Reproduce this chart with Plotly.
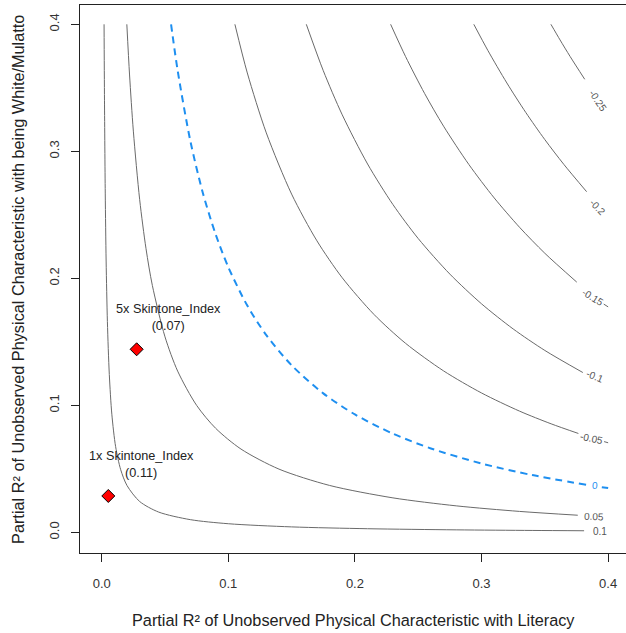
import plotly.graph_objects as go

# ---- data ----
levels = ["0.1", "0.05", "0", "-0.05", "-0.1", "-0.15", "-0.2", "-0.25"]

c_01_x = [0.00187, 0.0022, 0.0028, 0.0035, 0.0045, 0.006, 0.008, 0.011, 0.015, 0.02, 0.03, 0.045, 0.07, 0.1, 0.15, 0.21, 0.28, 0.34, 0.381]
c_01_y = [0.4, 0.3402, 0.2671, 0.2136, 0.1659, 0.1243, 0.0930, 0.0674, 0.0493, 0.0368, 0.02425, 0.01592, 0.00996, 0.00675, 0.00425, 0.00282, 0.00193, 0.00146, 0.00122]

c_005_x = [0.01985, 0.022, 0.025, 0.03, 0.035, 0.04, 0.05, 0.06, 0.075, 0.09, 0.11, 0.14, 0.18, 0.23, 0.28, 0.33, 0.376]
c_005_y = [0.4, 0.3601, 0.3159, 0.2619, 0.2233, 0.1944, 0.1539, 0.1269, 0.0999, 0.0819, 0.06555, 0.04976, 0.0369, 0.02712, 0.02083, 0.01645, 0.01344]

c_0_x = [0.0548, 0.06, 0.07, 0.08, 0.09, 0.1, 0.115, 0.13, 0.15, 0.175, 0.2, 0.23, 0.26, 0.3, 0.34, 0.383]
c_0_y = [0.4, 0.3635, 0.3082, 0.2668, 0.2346, 0.2088, 0.1785, 0.1553, 0.1315, 0.1094, 0.0928, 0.07767, 0.06603, 0.05413, 0.04504, 0.03737]
c_0_tail_x = [0.395, 0.4]
c_0_tail_y = [0.0355, 0.0348]

c_m005_x = [0.1052, 0.115, 0.13, 0.15, 0.17, 0.19, 0.215, 0.24, 0.27, 0.3, 0.33, 0.355, 0.3765]
c_m005_y = [0.4, 0.3617, 0.3145, 0.2663, 0.2295, 0.2004, 0.1716, 0.1488, 0.1271, 0.1097, 0.09542, 0.0854, 0.07783]
c_m005_tail_x = [0.3968, 0.4]
c_m005_tail_y = [0.0714, 0.0705]

c_m01_x = [0.1616, 0.175, 0.19, 0.21, 0.23, 0.25, 0.275, 0.3, 0.325, 0.35, 0.38]
c_m01_y = [0.4, 0.3635, 0.3287, 0.29, 0.2581, 0.2313, 0.2033, 0.1799, 0.1601, 0.1432, 0.1258]

c_m015_x = [0.2282, 0.24, 0.255, 0.27, 0.29, 0.31, 0.33, 0.35, 0.3752]
c_m015_y = [0.4, 0.3746, 0.3456, 0.3198, 0.2896, 0.2633, 0.2402, 0.2197, 0.197]
c_m015_tail_x = [0.3965, 0.4]
c_m015_tail_y = [0.1797, 0.1775]

c_m02_x = [0.2939, 0.305, 0.32, 0.335, 0.35, 0.365, 0.383]
c_m02_y = [0.4, 0.3794, 0.3538, 0.3305, 0.3092, 0.2897, 0.2682]

c_m025_x = [0.3548, 0.362, 0.37, 0.3815]
c_m025_y = [0.4, 0.3877, 0.3746, 0.3567]

label_x = [0.3937, 0.3887, 0.3897, 0.387, 0.3897, 0.388, 0.392, 0.392]
label_y = [0.0010, 0.0123, 0.0365, 0.074, 0.1225, 0.1845, 0.2561, 0.3404]
label_angle = [0, 2, 5, 12, 22, 32, 46, 56]

bench_x = [0.0052, 0.0276]
bench_y = [0.0286, 0.1441]
bench_names = ["1x Skintone_Index", "5x Skintone_Index"]
bench_values = ["(0.11)", "(0.07)"]
bench_label_x = [0.0316, 0.0531]
bench_label_y = [0.0535, 0.1690]

x_ticks = [0.0, 0.1, 0.2, 0.3, 0.4]
x_tick_text = ["0.0", "0.1", "0.2", "0.3", "0.4"]
y_ticks = [0.0, 0.1, 0.2, 0.3, 0.4]
y_tick_text = ["0.0", "0.1", "0.2", "0.3", "0.4"]

x_title = "Partial R² of Unobserved Physical Characteristic with Literacy"
y_title = "Partial R² of Unobserved Physical Characteristic with being White/Mulatto"

# ---- figure ----
FONT = "Liberation Sans, Arial, sans-serif"
GREY = "#6a6a6a"
BLUE = "#1E8FF0"

fig = go.Figure()

grey_curves = [
    (c_01_x, c_01_y), (c_005_x, c_005_y), (c_m005_x, c_m005_y),
    (c_m01_x, c_m01_y), (c_m015_x, c_m015_y), (c_m02_x, c_m02_y),
    (c_m025_x, c_m025_y), (c_m005_tail_x, c_m005_tail_y),
    (c_m015_tail_x, c_m015_tail_y),
]
for cx, cy in grey_curves:
    fig.add_trace(go.Scatter(x=cx, y=cy, mode="lines",
                             line=dict(color=GREY, width=1, shape="spline", smoothing=0.8),
                             hoverinfo="skip", showlegend=False))

for cx, cy in [(c_0_x, c_0_y), (c_0_tail_x, c_0_tail_y)]:
    fig.add_trace(go.Scatter(x=cx, y=cy, mode="lines",
                             line=dict(color=BLUE, width=2, dash="7px,5px", shape="spline", smoothing=0.8),
                             hoverinfo="skip", showlegend=False))

fig.add_trace(go.Scatter(x=bench_x, y=bench_y, mode="markers",
                         marker=dict(symbol="diamond", size=10, color="#FF0000",
                                     line=dict(color="black", width=1)),
                         showlegend=False))

for lx, ly, la, lv in zip(label_x, label_y, label_angle, levels):
    fig.add_annotation(x=lx, y=ly, text=lv, showarrow=False, textangle=la,
                       font=dict(family=FONT, size=10, color=BLUE if lv == "0" else "#555555"),
                       xanchor="center", yanchor="middle")

for bx, by, bn, bv in zip(bench_label_x, bench_label_y, bench_names, bench_values):
    fig.add_annotation(x=bx, y=by, text=bn + "<br>" + bv, showarrow=False,
                       font=dict(family=FONT, size=12.7, color="#222222"),
                       xanchor="center", yanchor="middle", align="center")

fig.add_annotation(xref="paper", yref="paper", x=0.5, y=-0.1223, text=x_title,
                   showarrow=False, xanchor="center", yanchor="middle",
                   font=dict(family=FONT, size=16.3, color="#222222"))
fig.add_annotation(xref="paper", yref="paper", x=-0.1136, y=0.5, text=y_title,
                   showarrow=False, xanchor="center", yanchor="middle", textangle=-90,
                   font=dict(family=FONT, size=16.3, color="#222222"))

fig.update_layout(
    width=626, height=633,
    margin=dict(l=80, r=0, t=5, b=80),
    paper_bgcolor="white", plot_bgcolor="white",
    font=dict(family=FONT, size=13, color="#222222"),
    showlegend=False,
)
fig.update_xaxes(range=[-0.01714, 0.4141], tickvals=x_ticks, ticktext=x_tick_text,
                 showgrid=False, zeroline=False, showline=True, linecolor="#222222",
                 linewidth=1, mirror=True, ticks="outside", ticklen=8, tickcolor="#222222",
                 ticklabelstandoff=10, tickfont=dict(size=13, color="#333333"))
fig.update_yaxes(range=[-0.0163, 0.4152], tickvals=y_ticks, ticktext=y_tick_text,
                 showgrid=False, zeroline=False, showline=True, linecolor="#222222",
                 linewidth=1, mirror=False, ticks="outside", ticklen=8, tickcolor="#222222",
                 tickangle=-90, ticklabelstandoff=7, tickfont=dict(size=13, color="#333333"))

fig.write_html("out.html", config={"displayModeBar": False},
               post_script="document.body.style.margin='0';document.body.style.overflow='hidden';")
